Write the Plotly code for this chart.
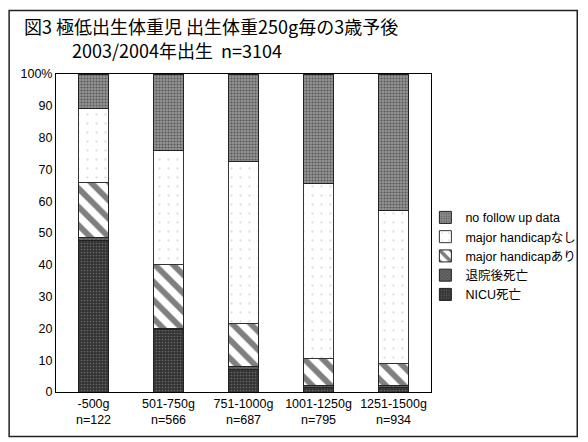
import plotly.graph_objects as go

categories = ["-500g<br>n=122", "501-750g<br>n=566", "751-1000g<br>n=687",
              "1001-1250g<br>n=795", "1251-1500g<br>n=934"]
nicu_death = [47.5, 19.5, 7.0, 1.5, 1.5]
death_after_discharge = [1.0, 0.5, 1.0, 0.5, 0.5]
handicap_yes = [17.5, 20.0, 13.5, 8.5, 7.0]
handicap_no = [23.0, 36.0, 51.0, 55.0, 48.0]
no_follow_up = [11.0, 24.0, 27.5, 34.5, 43.0]
y_tickvals = [0, 10, 20, 30, 40, 50, 60, 70, 80, 90, 100]
y_ticktext = ["0", "10", "20", "30", "40", "50", "60", "70", "80", "90", "100%"]

FONT = "Liberation Sans, Noto Sans CJK JP, sans-serif"
JFONT = "Noto Sans CJK JP, sans-serif"

series = [
    ("NICU死亡", nicu_death, dict(color="#333333", line=dict(color="#222", width=1),
                                 pattern=dict(shape=".", fgcolor="#9a9a9a", size=3, solidity=0.25))),
    ("退院後死亡", death_after_discharge, dict(color="#555555", line=dict(color="#222", width=1),
                                     pattern=dict(shape="x", fgcolor="#aaaaaa", size=3, solidity=0.3))),
    ("major handicapあり", handicap_yes, dict(color="white", line=dict(color="#222", width=1),
                                             pattern=dict(shape="\\", fgcolor="#000", bgcolor="white",
                                                          size=13, solidity=0.45))),
    ("major handicapなし", handicap_no, dict(color="white", line=dict(color="#333", width=1),
                                            pattern=dict(shape=".", fgcolor="#bbbbbb", bgcolor="white",
                                                         size=9, solidity=0.05))),
    ("no follow up data", no_follow_up, dict(color="#707070", line=dict(color="#222", width=1),
                                            pattern=dict(shape=".", fgcolor="#1a1a1a", bgcolor="#959595",
                                                         size=3, solidity=0.4))),
]

fig = go.Figure()
for name, vals, marker in series:
    fig.add_trace(go.Bar(x=categories, y=vals, name=name, marker=marker))

fig.update_layout(
    barmode="stack",
    bargap=0.59,
    width=588, height=442,
    margin=dict(l=48, r=165, t=66, b=58, autoexpand=False),
    paper_bgcolor="white", plot_bgcolor="white",
    font=dict(family=FONT, size=12, color="black"),
    showlegend=True,
    legend=dict(x=0.985, xanchor="left", y=0.595, yanchor="top", traceorder="reversed",
                font=dict(family=FONT, size=12.5), itemwidth=30, tracegroupgap=0,
                bgcolor="rgba(0,0,0,0)"),
    xaxis=dict(showline=True, linecolor="black", linewidth=1, mirror=True, ticks="",
               automargin=False, tickfont=dict(family=FONT, size=12.5)),
    yaxis=dict(range=[0, 100], tickvals=y_tickvals, ticktext=y_ticktext, showgrid=False,
               showline=True, linecolor="black", linewidth=1, mirror=True, ticks="",
               automargin=False, tickfont=dict(family=FONT, size=12.5), zeroline=False),
    annotations=[
        dict(text="図3 極低出生体重児 出生体重250g毎の3歳予後", xref="paper", yref="paper",
             x=-0.091, y=1.150, xanchor="left", yanchor="middle", showarrow=False,
             font=dict(family=JFONT, size=18, color="black")),
        dict(text="2003/2004年出生  n=3104", xref="paper", yref="paper",
             x=0.037, y=1.075, xanchor="left", yanchor="middle", showarrow=False,
             font=dict(family=JFONT, size=18, color="black")),
    ],
    shapes=[
        dict(type="rect", xref="paper", yref="paper", x0=-0.125, x1=1.39, y0=-0.14, y1=1.2,
             line=dict(color="#222", width=1.5), layer="above"),
    ],
)

fig.write_html("out.html")
